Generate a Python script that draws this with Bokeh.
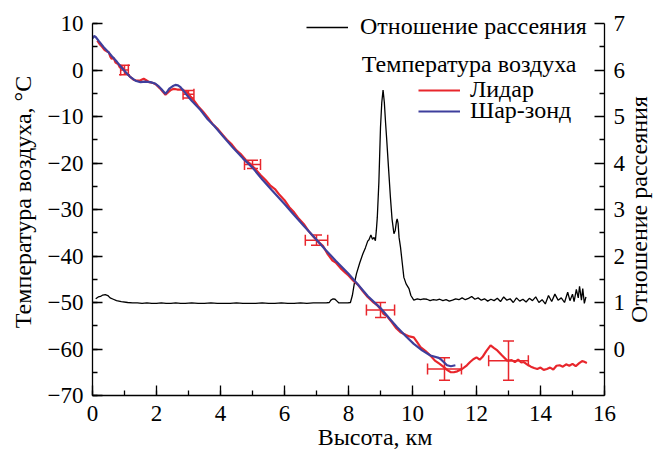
import math
from bokeh.plotting import figure
from bokeh.models import (Range1d, LinearAxis, SingleIntervalTicker, FixedTicker, Legend,
                          LegendItem, Label, Whisker, TeeHead, ColumnDataSource,
                          CustomJSTickFormatter)
from bokeh.embed import file_html
from bokeh.resources import INLINE

# ---------------- data ----------------
# Scattering ratio (right axis) vs height, km
sr_h = [0.10, 0.18, 0.25, 0.32, 0.40, 0.48, 0.55, 0.65, 0.75, 0.90, 1.10, 1.25, 1.40, 1.55,
        1.70, 1.85, 2.00, 2.15, 2.30, 2.45, 2.60, 2.75, 2.90, 3.10, 3.30, 3.50, 3.70, 3.90,
        4.10, 4.30, 4.50, 4.70, 4.90, 5.10, 5.30, 5.50, 5.70, 5.90, 6.10, 6.30, 6.50, 6.70,
        6.90, 7.10, 7.30, 7.40, 7.45, 7.52, 7.58, 7.64, 7.70, 7.85, 7.98, 8.06, 8.12, 8.18,
        8.25, 8.35, 8.45, 8.53, 8.60, 8.64, 8.70, 8.75, 8.80, 8.84, 8.87, 8.90, 8.95, 9.00,
        9.04, 9.08, 9.12, 9.16, 9.19, 9.25, 9.31, 9.36, 9.42, 9.46, 9.50, 9.52, 9.55, 9.58,
        9.625, 9.68, 9.73, 9.80, 9.89, 9.95, 10.04, 10.15, 10.25, 10.35, 10.45, 10.55, 10.65,
        10.75, 10.85, 10.95, 11.05, 11.15, 11.25, 11.35, 11.45, 11.55, 11.65, 11.75, 11.85,
        11.95, 12.05, 12.15, 12.25, 12.35, 12.45, 12.55, 12.65, 12.75, 12.85, 12.95, 13.05,
        13.15, 13.25, 13.35, 13.45, 13.55, 13.65, 13.75, 13.85, 13.95, 14.05, 14.15, 14.25,
        14.35, 14.45, 14.55, 14.65, 14.75, 14.85, 14.92, 15.00, 15.05, 15.12, 15.18, 15.22,
        15.28, 15.32, 15.37, 15.42]
sr_val = [1.08, 1.12, 1.13, 1.16, 1.17, 1.15, 1.10, 1.07, 1.04, 1.02, 1.00, 0.99, 0.99, 0.98,
          0.99, 0.98, 0.98, 0.99, 0.98, 0.98, 0.99, 0.98, 0.98, 0.99, 0.98, 0.98, 0.99, 0.98,
          0.98, 0.98, 0.99, 0.98, 0.98, 0.98, 0.99, 0.98, 0.98, 0.99, 0.98, 0.98, 0.99, 0.98,
          0.99, 0.99, 0.99, 1.00, 1.05, 1.08, 1.07, 1.03, 0.99, 0.99, 0.99, 1.00, 1.15, 1.40,
          1.62, 1.85, 2.05, 2.18, 2.32, 2.35, 2.45, 2.36, 2.40, 2.33, 2.55, 2.83, 3.60, 4.77,
          5.30, 5.57, 5.30, 4.85, 4.55, 3.90, 3.26, 2.80, 2.48, 2.55, 2.75, 2.80, 2.70, 2.40,
          2.19, 1.85, 1.54, 1.40, 1.30, 1.15, 1.05, 1.08, 1.06, 1.08, 1.07, 1.04, 1.06,
          1.05, 1.07, 1.04, 1.06, 1.03, 1.05, 1.08, 1.06, 1.10, 1.06, 1.09, 1.13,
          1.07, 1.10, 1.05, 1.08, 1.03, 1.07, 1.04, 1.09, 1.02, 1.12, 1.05, 1.08,
          1.00, 1.10, 1.03, 1.07, 1.01, 1.09, 1.04, 1.12, 1.00, 1.06, 0.97, 1.15,
          1.02, 1.18, 1.05, 1.10, 1.00, 1.22, 1.04, 1.18, 1.02, 1.28, 1.10, 1.35,
          1.05, 1.30, 0.98, 1.12]

# Lidar temperature, deg C
lid_h = [0.15, 0.22, 0.30, 0.38, 0.45, 0.51, 0.56, 0.60, 0.66, 0.72, 0.80, 0.86, 0.92, 0.98,
         1.04, 1.10, 1.18, 1.29, 1.40, 1.50, 1.60, 1.68, 1.77, 1.90, 2.00, 2.10, 2.20, 2.28,
         2.36, 2.45, 2.54, 2.65, 2.75, 2.85, 2.96, 3.05, 3.15, 3.30, 3.45, 3.60, 3.75, 3.90,
         4.05, 4.20, 4.35, 4.50, 4.65, 4.80, 4.95, 5.10, 5.25, 5.40, 5.55, 5.70, 5.85, 6.00,
         6.15, 6.30, 6.45, 6.60, 6.75, 6.90, 7.05, 7.20, 7.35, 7.50, 7.60, 7.75, 7.90, 8.00,
         8.15, 8.30, 8.45, 8.60, 8.75, 8.90, 9.00, 9.10, 9.20, 9.35, 9.50, 9.625, 9.80, 9.90,
         10.04, 10.15, 10.25, 10.40, 10.56, 10.70, 10.85, 10.98, 11.10, 11.20, 11.29, 11.40,
         11.55, 11.70, 11.80, 11.90, 12.00, 12.10, 12.20, 12.30, 12.44, 12.55, 12.65, 12.80,
         12.96, 13.10, 13.20, 13.30, 13.40, 13.48, 13.60, 13.70, 13.80, 13.90, 14.00, 14.10,
         14.20, 14.30, 14.40, 14.50, 14.60, 14.70, 14.80, 14.90, 15.00, 15.10, 15.20, 15.30,
         15.35, 15.45]
lid_t = [6.3, 5.6, 5.0, 4.3, 4.0, 3.8, 2.8, 2.4, 2.6, 1.6, 1.3, 0.5, 0.7, 0.0,
         -0.6, -0.9, -1.5, -2.1, -2.3, -2.2, -1.9, -2.2, -2.6, -2.8, -3.2, -3.9, -4.7, -5.3,
         -4.8, -4.3, -4.05, -4.2, -4.2, -4.4, -4.8, -5.6, -6.4, -7.8, -8.9, -10.2, -11.6, -12.6,
         -13.8, -15.0, -16.0, -17.3, -18.2, -19.4, -20.3, -21.4, -22.6, -23.6, -24.8, -25.6,
         -26.9, -28.0, -29.5, -30.6, -32.0, -33.1, -34.6, -35.8, -36.9, -37.8, -39.6, -41.0,
         -41.4, -42.6, -43.6, -44.2, -45.3, -46.2, -47.6, -48.8, -49.8, -50.6, -51.4, -52.5,
         -52.9, -54.2, -55.6, -56.4, -57.0, -57.3, -57.5, -58.6, -59.6, -60.4, -61.4, -62.5,
         -63.2, -63.9, -64.6, -65.0, -65.0, -64.8, -64.3, -63.5, -62.8, -62.2, -61.8, -62.3,
         -61.6, -60.5, -59.2, -59.8, -60.3, -61.4, -62.5, -62.4, -62.8, -62.3, -62.9, -62.8,
         -63.4, -63.8, -64.1, -64.3, -64.0, -64.5, -64.3, -64.0, -64.4, -63.6, -63.5, -63.8,
         -63.3, -63.6, -63.2, -63.7, -63.1, -62.6, -62.7, -63.0]

# Balloon (radiosonde) temperature, deg C
bal_h = [0.00, 0.05, 0.10, 0.20, 0.35, 0.50, 0.60, 0.77, 0.90, 1.08, 1.20, 1.34, 1.50, 1.65,
         1.81, 1.95, 2.05, 2.15, 2.28, 2.34, 2.40, 2.50, 2.59, 2.67, 2.75, 2.85, 2.96, 3.10,
         3.375, 3.60, 3.80, 4.10, 4.40, 4.70, 5.00, 5.30, 5.60, 6.00, 6.30, 6.60, 7.00, 7.30,
         7.60, 8.00, 8.30, 8.60, 9.00, 9.30, 9.52, 9.80, 10.04, 10.30, 10.56, 10.82, 10.90,
         11.08, 11.20, 11.34]
bal_t = [6.8, 7.3, 7.1, 6.2, 4.9, 3.8, 3.0, 1.7, 0.6, -0.8, -1.6, -2.3, -2.6, -2.5,
         -2.6, -2.9, -3.4, -4.1, -5.1, -4.6, -4.0, -3.5, -3.2, -3.3, -3.7, -4.5, -5.5, -6.6,
         -8.6, -10.6, -12.0, -14.4, -16.8, -19.0, -21.0, -23.5, -25.8, -28.8, -31.2, -33.5,
         -36.5, -38.8, -41.0, -43.8, -46.2, -48.6, -51.2, -53.6, -55.3, -57.3, -58.9, -60.3,
         -61.4, -61.9, -62.3, -63.5, -63.7, -63.5]

# Lidar error bars
eb_h = [1.0, 3.0, 5.0, 7.0, 9.0, 11.0, 13.0]
eb_t = [0.0, -5.2, -20.3, -36.6, -51.6, -64.3, -62.5]
eb_dh = [0.12, 0.17, 0.25, 0.35, 0.44, 0.53, 0.62]
eb_dt = [1.0, 0.8, 0.9, 1.1, 1.6, 2.4, 4.2]

# axis extents
x_lim = (0, 16)
t_lim = (-70, 10)
sr_lim = (-1, 7)
sr_ticks = [0, 1, 2, 3, 4, 5, 6, 7]
sr_minor = [-0.5, 0.5, 1.5, 2.5, 3.5, 4.5, 5.5, 6.5]

x_title = "Высота, км"
y_title = "Температура воздуха, °C"
y2_title = "Отношение рассеяния"
leg_sr = "Отношение рассеяния"
leg_group = "Температура воздуха"
leg_lid = "Лидар"
leg_bal = "Шар-зонд"

# ---------------- style ----------------
FONT = "Liberation Serif"
FS = "23px"      # tick labels
FS_T = "24px"    # titles and legend
RED = "#e8262c"
BLUE = "#3e3f9c"

W, H = 657, 452
FL, FT, FR, FB = 92, 8, 0, 57           # borders around the (extended) frame
AX_W = 512                               # px between 0 and 16 km
AX_H = 372                               # px between -70 and 10 on the left axis
HEAD = 15                                # px of headroom above the axes top
EXTRA = HEAD * (t_lim[1] - t_lim[0]) / AX_H
X_END = x_lim[1] * (W - FL - FR) / AX_W  # frame extends right of the axes box

p = figure(width=W, height=H, output_backend="svg", toolbar_location=None,
           x_range=Range1d(x_lim[0], X_END), y_range=Range1d(t_lim[0], t_lim[1] + EXTRA),
           min_border_left=FL, min_border_right=FR, min_border_top=FT, min_border_bottom=FB)
p.extra_y_ranges = {"sr": Range1d(sr_lim[0], sr_lim[1] + EXTRA * (sr_lim[1] - sr_lim[0]) / (t_lim[1] - t_lim[0]))}
p.grid.visible = False
p.outline_line_color = None
p.background_fill_color = "white"
p.border_fill_color = "white"


def style_axis(ax):
    ax.axis_line_color = "black"
    ax.axis_line_width = 1.3
    ax.major_tick_line_color = "black"
    ax.minor_tick_line_color = "black"
    ax.major_tick_line_width = 1.3
    ax.minor_tick_line_width = 1.3
    ax.major_tick_in = 10
    ax.major_tick_out = 0
    ax.minor_tick_in = 5
    ax.minor_tick_out = 0
    ax.major_label_text_font = FONT
    ax.major_label_text_font_size = FS
    ax.major_label_text_color = "black"
    ax.axis_label_text_font = FONT
    ax.axis_label_text_font_size = FS_T
    ax.axis_label_text_color = "black"
    ax.axis_label_text_font_style = "normal"


minus_fmt = CustomJSTickFormatter(code='return (tick < 0 ? "\\u2212" : "") + Math.abs(tick).toFixed(0);')

xa = p.xaxis[0]
style_axis(xa)
xa.bounds = x_lim
xa.ticker = SingleIntervalTicker(interval=2, num_minor_ticks=2)
xa.major_label_standoff = 10
xa.axis_label = x_title
xa.axis_label_standoff = 0

ya = p.yaxis[0]
style_axis(ya)
ya.bounds = t_lim
ya.ticker = SingleIntervalTicker(interval=10, num_minor_ticks=2)
ya.formatter = minus_fmt
ya.major_label_standoff = 9
ya.axis_label = y_title
ya.axis_label_standoff = 9

# right axis drawn at x = 16 km inside the extended frame
ra = LinearAxis(y_range_name="sr", bounds=sr_lim, fixed_location=x_lim[1],
                ticker=FixedTicker(ticks=sr_ticks, minor_ticks=sr_minor))
style_axis(ra)
ra.major_label_standoff = 9
p.add_layout(ra, "right")

# ---------------- glyphs ----------------
r_sr = p.line(sr_h, sr_val, y_range_name="sr", line_color="black", line_width=1.3)
r_lid = p.line(lid_h, lid_t, line_color=RED, line_width=2.2)
r_bal = p.line(bal_h, bal_t, line_color=BLUE, line_width=2.2)

eb_src = ColumnDataSource(dict(
    h=eb_h, t=eb_t,
    t_lo=[t - d for t, d in zip(eb_t, eb_dt)], t_hi=[t + d for t, d in zip(eb_t, eb_dt)],
    h_lo=[h - d for h, d in zip(eb_h, eb_dh)], h_hi=[h + d for h, d in zip(eb_h, eb_dh)],
))
wv = Whisker(source=eb_src, base="h", lower="t_lo", upper="t_hi", dimension="height",
             line_color=RED, line_width=1.5,
             upper_head=TeeHead(size=11, line_color=RED, line_width=1.5),
             lower_head=TeeHead(size=11, line_color=RED, line_width=1.5))
wh = Whisker(source=eb_src, base="t", lower="h_lo", upper="h_hi", dimension="width",
             line_color=RED, line_width=1.5,
             upper_head=TeeHead(size=11, line_color=RED, line_width=1.5),
             lower_head=TeeHead(size=11, line_color=RED, line_width=1.5))
p.add_layout(wv)
p.add_layout(wh)

# ---------------- legends ----------------
def make_legend(label, renderer, loc, standoff):
    lg = Legend(items=[LegendItem(label=label, renderers=[renderer])], location=loc)
    lg.label_text_font = FONT
    lg.label_text_font_size = FS_T
    lg.label_text_color = "black"
    lg.glyph_width = 42
    lg.glyph_height = 20
    lg.label_height = 20
    lg.label_standoff = standoff
    lg.padding = 0
    lg.margin = 0
    lg.border_line_color = None
    lg.background_fill_alpha = 0
    p.add_layout(lg)
    return lg


make_legend(leg_sr, r_sr, (214, 355), 12)
make_legend(leg_lid, r_lid, (326, 292), 10)
make_legend(leg_bal, r_bal, (326, 271), 10)

p.add_layout(Label(x=484, y=332, x_units="screen", y_units="screen", text=leg_group,
                   text_font=FONT, text_font_size=FS_T, text_color="black",
                   text_align="right", text_baseline="middle"))

# right axis title, reading bottom-to-top
p.add_layout(Label(x=546, y=186, x_units="screen", y_units="screen", text=y2_title,
                   angle=math.pi / 2, text_font=FONT, text_font_size=FS_T, text_color="black",
                   text_align="center", text_baseline="middle"))

open("out.html", "w").write(file_html(p, INLINE))
